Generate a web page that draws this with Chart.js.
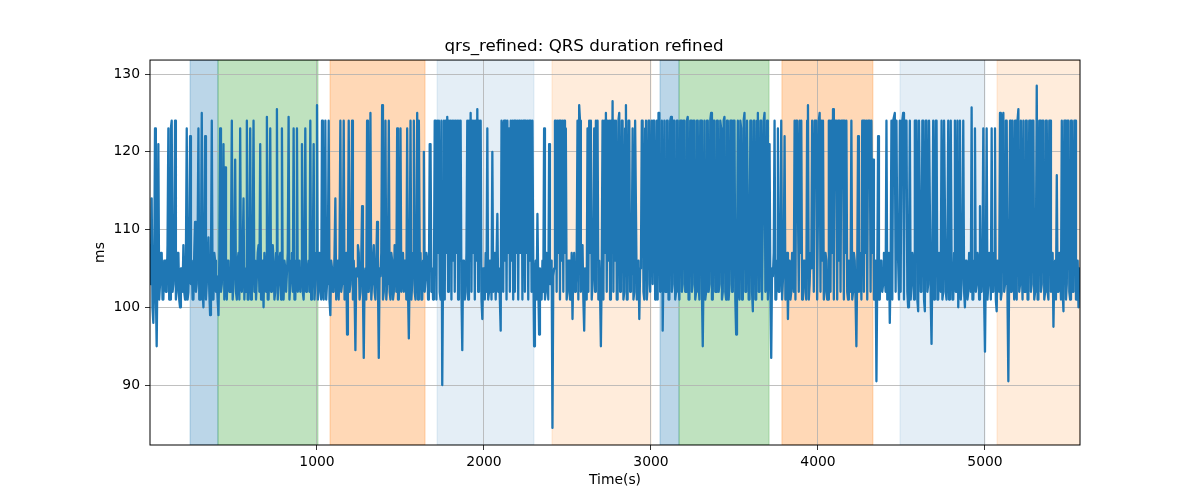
<!DOCTYPE html>
<html>
<head>
<meta charset="utf-8">
<script src="https://cdn.jsdelivr.net/npm/chart.js@4.4.1/dist/chart.umd.min.js"></script>
<style>
  body { margin: 0; background: #fff; }
</style>
</head>
<body>
<canvas id="qrs" width="1200" height="500"></canvas>
<script>
// samples every 5 s, starting at t = 0
const T0 = 0;
const DT = 5;

// QRS duration (ms) (40 samples = 200 s per row)
const qrsMs = [
  108,103,114,100,98,104,123,102,95,106,121,101,103,107,107,101,101,106,106,102,102,108,123,101,101,123,124,102,103,106,124,101,102,107,107,101,100,105,105,102,
  108,102,101,106,123,101,102,107,122,103,106,101,101,107,111,102,103,108,123,101,101,106,125,102,100,107,122,101,103,106,109,102,99,105,124,101,101,107,106,102,
  104,101,99,106,123,102,103,107,121,101,118,103,101,106,106,102,102,108,124,101,103,107,119,102,101,106,107,101,123,103,102,107,114,101,105,102,124,101,101,106,
  123,101,102,107,124,102,106,101,101,107,108,102,121,101,103,106,100,107,105,102,124.5,101,101,106,123,102,104,108,106,101,102,107,125.5,101,103,106,107,101,123,102,
  101,106,105,102,102,107,124.5,101,103,106,107,102,123,101,101,106,123,102,104,106,102,105,121,102,101,106,123,102,104,105,106,102,124,101,102,106,121,101,103,107,
  126,101,102,107,106,101,124,102,101,107,124,101,103,106,124,101,99,106,105,102,102,107,114,101,104,106,101,107,124,102,103,106,124,101,102,107,96.5,105,124,102,
  103,107,124,101,106,102,94.5,105,104,108,107,101,102,106,113,102,93.5,104,105,101,124,102,102,107,125,101,103,106,108,102,101,106,111,103,93.5,105,104,107,126,101,
  102,107,124,101,103,106,124,102,101,107,106,101,102,108,107,102,123,101,101,106,123,102,104,107,102,106,106,101,123,102,96,105,124,101,103,107,124,102,101,106,
  125,101,124,107,107,101,101,106,120,102,104,107,106,101,103,121,121,102,105,101,102,124,124,101,124,107,124,102,101,124,90,105,124,101,124,107,124.5,102,124,106,
  124,101,124,106,124,102,124,107,124,101,124,106,124,102,94.5,106,105,101,102,107,124,101,124,106,125,102,124,107,124,101,124,106,125.5,102,124,107,124,101,98.5,105,
  104,101,107,102,123,101,102,106,106,101,120,102,103,107,101,106,112,102,105,101,97,124,123,102,124,106,124,101,124,107,123,102,124,106,124,101,124,102,124,107,
  124,101,124,107,107,124,101,124,124,102,124,107,124,101,124,106,124,102,124,106,95,104,106,101,112,103,96.5,105,104,101,106,102,123,101,102,107,105,101,121,103,
  103,106,84.5,104,105,124,124,102,124,107,124,101,124,106,124,102,124,107,123,101,102,106,106,101,101,107,98.5,105,107,102,103,106,124,101,126,124,102,107,108,101,
  97,105,105,101,123,102,124,107,124,101,103,106,123,102,124,107,124,101,106,102,95,105,124,101,124,107,125,102,124,106,124,101,124,107,126.5,102,124,106,124,101,
  101,124,125,102,103,124,124,101,102,123,126,101,101,124,124,102,104,107,123,101,102,124,124,101,103,106,98.5,105,106,124,124,102,101,123,124,101,103,124,124,102,
  102,124,103,124,124,101,102,124,101,125,125,102,103,124,97,106,124,102,102,124,124,101,101,124,124.5,102,103,124,124,101,102,124,124,103,101,124,124,102,103,124,
  124,102,102,124,124.5,101,101,124,124,102,103,124,124,101,102,124,124,103,101,124,124,102,95,105,124,101,102,124,124,102,103,124,125,101,101,124,124,102,102,124,
  124,102,103,124,123,101,102,124,124.5,102,101,124,124,101,103,124,124,102,102,124,124,101,96.5,105,124,102,101,124,123,101,103,124,125,102,102,124,124,101,101,124,
  124,102,99.5,124,124,101,101,124,125,102,102,124,124,101,101,124,125,102,103,124,101,106,121,102,93.5,105,104,107,124,101,101,106,123,102,102,107,124,101,101,106,
  122,101,103,107,98.5,105,106,101,102,107,107,102,124,101,124,124,124,102,124,107,124,101,102,106,106,102,101,124,126,101,103,107,105,124,124,102,124,124,124,101,
  101,124,125,102,124,106,124,101,102,107,106,101,101,124,124,102,124,107,125.5,101,124,124,124,101,124,106,124,102,124,124,124,101,124,107,124,102,101,106,105,102,
  124,101,102,107,106,101,95,105,122,102,103,107,101,124,124,102,124,107,124,101,124,124,124,102,124,107,119,101,102,106,90.5,104,122,101,101,106,106,102,103,107,
  104,102,124,101,102,107,98,105,124,101,124,124,125,102,124,107,106,101,124,102,124,124,125,101,124,124,124,102,100,106,124,101,103,107,106,101,124,124,124,101,
  99.5,124,124,102,102,124,124,101,99.5,124,124,102,103,124,124,101,95.3,106,124,101,102,124,124,101,101,107,106,102,124,101,102,124,124,102,101,106,124,101,103,124,
  106,101,101,107,124,102,102,124,100,106,124,101,103,107,124,102,100,106,106,101,102,107,104,102,125.7,101,101,106,123,102,103,107,106,101,113,102,102,106,123,101,
  94.3,105,123,101,103,107,106,101,123,102,102,107,123,101,99.5,106,105,102,125,101,102,124,125,102,103,124,124,101,90.5,105,124,102,102,124,106,101,124,102,101,124,
  125.5,102,103,124,106,101,124,102,102,124,124,101,101,124,124,102,103,124,124,101,102,107,128.5,101,101,124,124,102,103,124,124,101,102,124,124,102,101,124,124,102,
  103,107,97.5,105,106,101,117,102,102,107,106,101,124,102,99.5,124,124,101,103,124,124,102,101,124,124,102,102,124,124,101,101,106,100,105,104
];

// shaded segments: start, end (s) and fill
const spanStart = [240, 407, 1078, 1719, 2407, 3054, 3168, 3784, 4491, 5072];
const spanEnd   = [407, 1006, 1647, 2299, 3000, 3168, 3707, 4329, 5000, 5569];
const spanColor = [
  'rgba(31,119,180,0.3)', 'rgba(44,160,44,0.3)', 'rgba(255,127,14,0.3)',
  'rgba(31,119,180,0.12)', 'rgba(255,127,14,0.15)',
  'rgba(31,119,180,0.3)', 'rgba(44,160,44,0.3)', 'rgba(255,127,14,0.3)',
  'rgba(31,119,180,0.12)', 'rgba(255,127,14,0.15)'
];

const xTicks = [1000, 2000, 3000, 4000, 5000];
const yTicks = [90, 100, 110, 120, 130];

const points = qrsMs.map((v, i) => ({ x: T0 + i * DT, y: v }));

const spans = {
  id: 'spans',
  beforeDraw(chart) {
    const { ctx, chartArea: a, scales: { x } } = chart;
    ctx.save();
    ctx.beginPath();
    ctx.rect(a.left, a.top, a.right - a.left, a.bottom - a.top);
    ctx.clip();
    spanStart.forEach((s, i) => {
      const x0 = x.getPixelForValue(s);
      const x1 = x.getPixelForValue(spanEnd[i]);
      ctx.fillStyle = spanColor[i];
      ctx.fillRect(x0, a.top, x1 - x0, a.bottom - a.top);
      ctx.strokeStyle = spanColor[i];
      ctx.lineWidth = 1;
      ctx.strokeRect(x0, a.top, x1 - x0, a.bottom - a.top);
    });
    ctx.restore();
  },
  afterDraw(chart) {
    const { ctx, chartArea: a } = chart;
    ctx.save();
    ctx.strokeStyle = '#000';
    ctx.lineWidth = 1;
    ctx.strokeRect(a.left, a.top, a.right - a.left, a.bottom - a.top);
    ctx.restore();
  }
};

const tickFont = { family: 'DejaVu Sans', size: 13.9 };

new Chart(document.getElementById('qrs'), {
  type: 'line',
  data: {
    datasets: [{
      data: points,
      borderColor: '#1f77b4',
      borderWidth: 2.3,
      borderJoinStyle: 'round',
      borderCapStyle: 'round',
      pointRadius: 0,
      tension: 0,
      fill: false
    }]
  },
  options: {
    responsive: false,
    animation: false,
    events: [],
    layout: { padding: { left: 88, right: 120, top: 0, bottom: 7 } },
    plugins: {
      legend: { display: false },
      tooltip: { enabled: false },
      title: {
        display: true,
        text: 'qrs_refined: QRS duration refined',
        color: '#000',
        font: { family: 'DejaVu Sans', size: 16.7, weight: 'normal' },
        padding: { top: 37, bottom: 3 }
      }
    },
    scales: {
      x: {
        type: 'linear',
        min: 0,
        max: 5569,
        afterBuildTicks: s => { s.ticks = xTicks.map(v => ({ value: v })); },
        afterFit: s => { s.height = 48; },
        grid: { color: '#b0b0b0', lineWidth: 0.8, tickColor: '#000', tickLength: 5, tickWidth: 0.8 },
        border: { display: false },
        ticks: { color: '#000', font: tickFont, padding: 4, maxRotation: 0, callback: v => String(v) },
        title: { display: true, text: 'Time(s)', color: '#000', font: tickFont, padding: 4 }
      },
      y: {
        min: 82.3,
        max: 131.8,
        afterBuildTicks: s => { s.ticks = yTicks.map(v => ({ value: v })); },
        afterFit: s => { s.width = 62; },
        grid: { color: '#b0b0b0', lineWidth: 0.8, tickColor: '#000', tickLength: 5, tickWidth: 0.8 },
        border: { display: false },
        ticks: { color: '#000', font: tickFont, padding: 5, callback: v => String(v) },
        title: { display: true, text: 'ms', color: '#000', font: tickFont, padding: 4 }
      }
    }
  },
  plugins: [spans]
});
</script>
</body>
</html>
